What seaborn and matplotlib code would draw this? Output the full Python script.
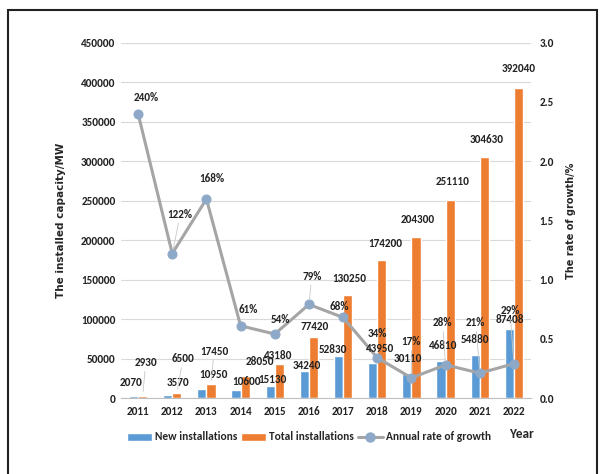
import numpy as np
import pandas as pd
import matplotlib
matplotlib.use('Agg')
import matplotlib.pyplot as plt
import seaborn as sns
from matplotlib.patches import Patch, Rectangle
from matplotlib.lines import Line2D

sns.set_style('white')
plt.rcParams['font.family'] = ['Carlito', 'DejaVu Sans']

years = ['2011', '2012', '2013', '2014', '2015', '2016', '2017', '2018', '2019', '2020', '2021', '2022']
new_inst = [2070, 3570, 10950, 10600, 15130, 34240, 52830, 43950, 30110, 46810, 54880, 87408]
total_inst = [2930, 6500, 17450, 28050, 43180, 77420, 130250, 174200, 204300, 251110, 304630, 392040]
growth = [2.40, 1.22, 1.68, 0.61, 0.54, 0.79, 0.68, 0.34, 0.17, 0.28, 0.21, 0.29]
growth_labels = ['240%', '122%', '168%', '61%', '54%', '79%', '68%', '34%', '17%', '28%', '21%', '29%']

# label offsets in pixels (dx, dy)
new_off = [(-2, 14), (10, 13), (12, 15), (11, 8), (2, 7), (2, 5), (-6, 7), (7, 15), (1, 16), (2, 16), (0, 15), (1, 9)]
total_off = [(3, 33), (6, 34), (3, 33), (15, 14), (-1, 8), (1, 10), (2, 17), (3, 17), (2, 17), (2, 18), (2, 18), (0, 20)]
growth_off = [(8, 16), (8, 39), (5, 21), (8, 16), (6, 15), (3, 28), (-4, 11), (0, 24), (0, 36), (-3, 42), (-4, 51), (-4, 53)]

blue = '#5B9BD5'
orange = '#ED7D31'
gray = '#A5A5A5'
marker_c = '#8EA9C8'

df = pd.DataFrame({
    'year': years * 2,
    'value': new_inst + total_inst,
    'series': ['New installations'] * 12 + ['Total installations'] * 12,
})

fig = plt.figure(figsize=(6, 4.74), dpi=100)
ax = fig.add_axes([0.2017, 0.1603, 0.6833, 0.7497])

sns.barplot(data=df, x='year', y='value', hue='series', palette=[blue, orange],
            width=0.54, ax=ax, legend=False, saturation=1)
ax.set_ylim(0, 450000)
ax.set_yticks(np.arange(0, 450001, 50000))
ax.set_xlim(-0.5, 11.5)
ax.grid(axis='y', color='#D9D9D9', lw=0.8)
ax.set_axisbelow(True)
for s in ['top', 'right', 'left']:
    ax.spines[s].set_visible(False)
ax.spines['bottom'].set_color('#BFBFBF')
ax.tick_params(axis='both', length=0, labelsize=8, colors='#222222', pad=4)
ax.tick_params(axis='x', pad=6)
for lab in ax.get_xticklabels() + ax.get_yticklabels():
    lab.set_fontweight('bold')
ax.set_xlabel('')
ax.set_ylabel('The installed capacity/MW', fontsize=7.5, fontweight='bold',
              family='DejaVu Sans', labelpad=11)

ax2 = ax.twinx()
sns.lineplot(x=np.arange(len(years)), y=growth, ax=ax2, color=gray, lw=2.2,
             marker='o', markersize=6.5, markerfacecolor=marker_c, markeredgecolor=marker_c)
ax2.set_ylim(0, 3.0)
ax2.set_yticks(np.arange(0, 3.01, 0.5))
ax2.set_yticklabels([f'{t:.1f}' for t in np.arange(0, 3.01, 0.5)], fontweight='bold')
for s in ax2.spines.values():
    s.set_visible(False)
ax2.tick_params(axis='y', length=0, labelsize=8, colors='#222222', pad=6)
ax2.set_ylabel('The rate of growth/%', fontsize=7, fontweight='bold',
               family='DejaVu Sans', labelpad=9)
ax.set_xlim(-0.5, 11.5)

lead = dict(arrowstyle='-', color='#C8C8C8', lw=0.6, shrinkA=0, shrinkB=3)
txt = dict(textcoords='offset pixels', ha='center', va='center', fontsize=8,
           color='#222222', fontweight='bold')
for i in range(len(years)):
    ox, oy = new_off[i]
    ax2.annotate(f'{new_inst[i]}', xy=(i - 0.135, new_inst[i]), xycoords=ax.transData,
                 xytext=(ox, oy), **txt)
    ox, oy = total_off[i]
    ax2.annotate(f'{total_inst[i]}', xy=(i + 0.135, total_inst[i]), xycoords=ax.transData,
                 xytext=(ox, oy), arrowprops=lead if oy > 25 else None, **txt)
    ox, oy = growth_off[i]
    ax2.annotate(growth_labels[i], xy=(i, growth[i]), xytext=(ox, oy),
                 arrowprops=lead if oy > 25 else None, **txt)

handles = [Patch(facecolor=blue), Patch(facecolor=orange),
           Line2D([0], [0], color=gray, lw=2.2, marker='o', markersize=6.5,
                  markerfacecolor=marker_c, markeredgecolor=marker_c)]
fig.legend(handles, ['New installations', 'Total installations', 'Annual rate of growth'],
           loc='center', bbox_to_anchor=(0.515, 1 - 437 / 474), ncol=3, frameon=False,
           prop={'size': 8.2, 'weight': 'bold'}, handlelength=2.2, handleheight=0.7,
           handletextpad=0.3, columnspacing=0.3)
fig.text(521 / 600, 1 - 434 / 474, 'Year', fontsize=9.5, fontweight='bold', ha='center', va='center')

fig.patches.append(Rectangle((0.013, -0.02), 0.982, 0.999, transform=fig.transFigure,
                             fill=False, edgecolor='#222222', lw=1.5))

fig.savefig('out.png', dpi=100)
